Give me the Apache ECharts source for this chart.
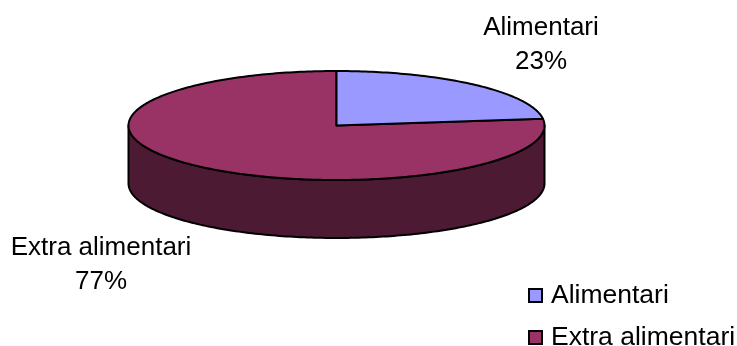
<!DOCTYPE html>
<html>
<head>
<meta charset="utf-8">
<style>html,body{margin:0;padding:0;background:#fff}#chart{width:737px;height:346px}</style>
<script src="https://cdn.jsdelivr.net/npm/echarts@6/dist/echarts.min.js"></script>
</head>
<body>
<div id="chart"></div>
<script>
// Share of spending by category
const categories = ['Alimentari', 'Extra alimentari'];
const shares = [23, 77];
const topColors = ['#9999FF', '#993366'];
const sideColors = ['#4D1A33', '#4D1A33'];

// Tilted disc geometry
const disc = { cx: 336.5, cy: 125.5, rx: 208, ry: 54.5, depth: 58 };
const labelAnchors = [[541, 45], [101, 265]];
const fontFamily = '"Liberation Sans", Arial, sans-serif';
const total = shares.reduce((a, b) => a + b, 0);

// Angle is measured clockwise from the top of the disc
function rimPoint(turn, dy) {
  const a = turn * 2 * Math.PI;
  return [disc.cx + disc.rx * Math.sin(a), disc.cy - disc.ry * Math.cos(a) + (dy || 0)];
}
function rimArc(from, to, dy) {
  const pts = [];
  const n = Math.max(2, Math.ceil(Math.abs(to - from) * 360));
  for (let i = 0; i <= n; i++) pts.push(rimPoint(from + (to - from) * i / n, dy));
  return pts;
}

function sliceRenderer(index) {
  const before = shares.slice(0, index).reduce((a, b) => a + b, 0);
  return function (params, api) {
    const from = before / total;
    const to = from + api.value(0) / total;
    const line = { stroke: '#000', lineWidth: 2, lineJoin: 'round' };
    const children = [];

    // Only the part of the wall on the front half of the rim is visible
    const wallFrom = Math.max(from, 0.25);
    const wallTo = Math.min(to, 0.75);
    if (wallTo > wallFrom) {
      const wall = rimArc(wallFrom, wallTo, 0).concat(rimArc(wallTo, wallFrom, disc.depth));
      children.push({
        type: 'polygon',
        shape: { points: wall },
        style: Object.assign({ fill: sideColors[index] }, line)
      });
    }

    children.push({
      type: 'polygon',
      shape: { points: [[disc.cx, disc.cy]].concat(rimArc(from, to, 0)) },
      style: Object.assign({ fill: topColors[index] }, line)
    });

    children.push({
      type: 'text',
      x: labelAnchors[index][0],
      y: labelAnchors[index][1],
      style: {
        text: categories[index] + '\n' + Math.round(api.value(0) / total * 100) + '%',
        align: 'center',
        verticalAlign: 'middle',
        fill: '#000',
        fontFamily: fontFamily,
        fontSize: 26,
        lineHeight: 34
      }
    });
    return { type: 'group', children: children };
  };
}

// The large slice goes first so the smaller one's outline sits on top of it
const drawOrder = [1, 0];

const chart = echarts.init(document.getElementById('chart'), null, { renderer: 'canvas' });
chart.setOption({
  animation: false,
  backgroundColor: '#fff',
  legend: {
    orient: 'vertical',
    left: 528,
    top: 282,
    height: 100,
    padding: 0,
    itemWidth: 13,
    itemHeight: 13,
    itemGap: 15,
    icon: 'rect',
    textStyle: { fontFamily: fontFamily, fontSize: 26.5, color: '#000', padding: [0, 0, 3, 4], lineHeight: 24 },
    data: categories.map((name, i) => ({
      name: name,
      itemStyle: { color: topColors[i], borderColor: '#000', borderWidth: 2 }
    }))
  },
  series: drawOrder.map(i => ({
    type: 'custom',
    name: categories[i],
    coordinateSystem: 'none',
    silent: true,
    itemStyle: { color: topColors[i] },
    renderItem: sliceRenderer(i),
    data: [[shares[i]]]
  }))
});
</script>
</body>
</html>
